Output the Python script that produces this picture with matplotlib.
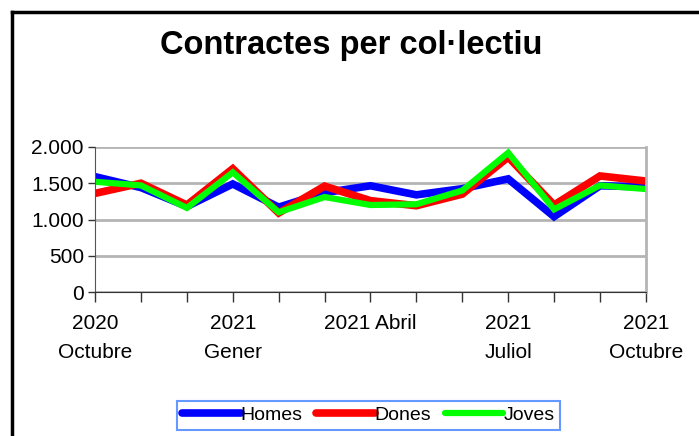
import matplotlib
matplotlib.use('Agg')
import matplotlib.pyplot as plt
from matplotlib.lines import Line2D

plt.rcParams['font.family'] = ['Liberation Sans', 'DejaVu Sans']

# months Oct 2020 .. Oct 2021
mesos = list(range(13))
etiquetes = ['2020\nOctubre', '', '', '2021\nGener', '', '', '2021 Abril', '', '',
             '2021\nJuliol', '', '', '2021\nOctubre']
homes = [1590, 1440, 1180, 1490, 1170, 1370, 1465, 1340, 1425, 1560, 1040, 1465, 1450]
dones = [1360, 1500, 1200, 1700, 1090, 1460, 1260, 1190, 1350, 1860, 1200, 1600, 1530]
joves = [1520, 1470, 1160, 1650, 1100, 1310, 1200, 1210, 1400, 1920, 1140, 1470, 1420]

fig = plt.figure(figsize=(6.99, 4.36), dpi=100)
ax = fig.add_axes([0.136, 0.330, 0.788, 0.333])

ax.plot(mesos, homes, color='#0000ff', lw=5.5, label='Homes', solid_joinstyle='miter')
ax.plot(mesos, dones, color='#ff0000', lw=5.5, label='Dones', solid_joinstyle='miter')
ax.plot(mesos, joves, color='#00ff00', lw=4.5, label='Joves', solid_joinstyle='miter')

ax.set_xlim(0, 12)
ax.set_ylim(0, 2000)
ax.set_yticks([0, 500, 1000, 1500, 2000])
ax.set_yticklabels(['0', '500', '1.000', '1.500', '2.000'], fontsize=15)
ax.set_xticks(mesos)
ax.set_xticklabels(etiquetes, fontsize=15, linespacing=1.65, va='top')
ax.yaxis.grid(True, color='#b4b4b4', lw=2)
ax.set_axisbelow(True)
ax.tick_params(axis='x', length=7, width=1, pad=9, color='#333333')
ax.tick_params(axis='y', length=5, width=1, pad=3, color='#333333')
ax.spines['top'].set_visible(False)
ax.spines['right'].set_color('#b4b4b4')
ax.spines['right'].set_linewidth(2)
ax.spines['left'].set_color('#555555')
ax.spines['bottom'].set_color('#333333')

fig.text(0.502, 0.896, 'Contractes per col·lectiu', ha='center', va='center',
         fontsize=23.5, fontweight='bold')

# outer frame (only left and top visible)
fig.add_artist(Line2D([0.017, 0.017], [0.0, 0.972], transform=fig.transFigure, color='black', lw=2.5))
fig.add_artist(Line2D([0.017, 1.0], [0.972, 0.972], transform=fig.transFigure, color='black', lw=2.5))

leg = fig.legend(loc='upper center', bbox_to_anchor=(0.527, 0.081), ncol=3, fontsize=14,
                 handlelength=3.0, handletextpad=0.0, columnspacing=0.7,
                 frameon=True, fancybox=False, borderpad=0.3, borderaxespad=0)
leg.get_frame().set_edgecolor('#4080ff')
leg.get_frame().set_linewidth(1.5)
for h in leg.legend_handles:
    h.set_solid_capstyle('round')

fig.savefig('out.png', dpi=100)
